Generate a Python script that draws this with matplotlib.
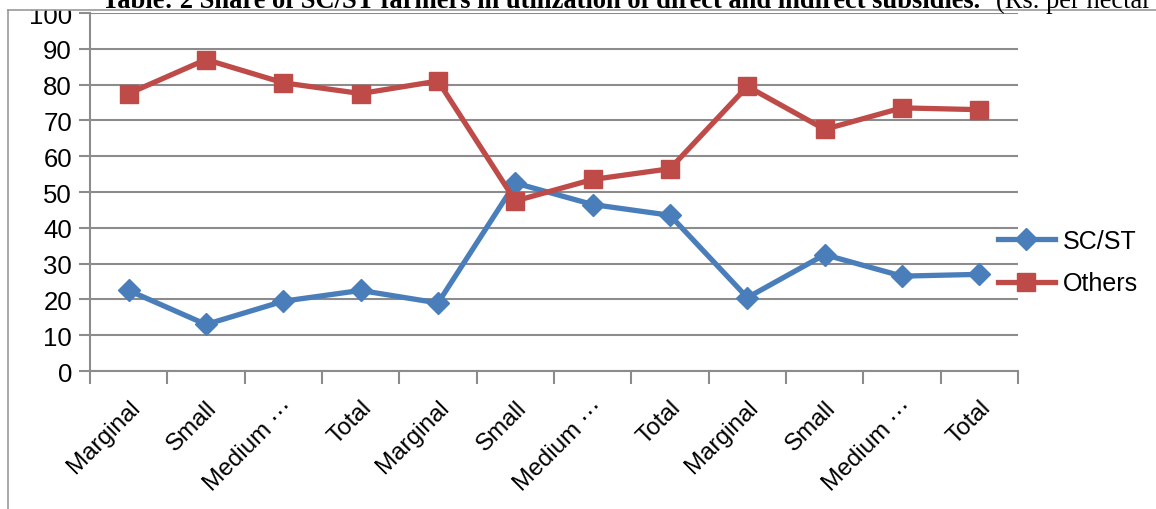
import matplotlib
matplotlib.use("Agg")
import matplotlib.pyplot as plt
from matplotlib.patches import Rectangle
from matplotlib.lines import Line2D

categories = ["Marginal", "Small", "Medium \u22ef", "Total",
              "Marginal", "Small", "Medium \u22ef", "Total",
              "Marginal", "Small", "Medium \u22ef", "Total"]
sc_st = [22.5, 13.0, 19.5, 22.5, 19.0, 52.5, 46.5, 43.5, 20.5, 32.5, 26.5, 27.0]
others = [77.5, 87.0, 80.5, 77.5, 81.0, 47.5, 53.5, 56.5, 79.5, 67.5, 73.5, 73.0]
yticks = [0, 10, 20, 30, 40, 50, 60, 70, 80, 90, 100]
title_bold = "Table: 2 Share of SC/ST farmers in utilization of direct and indirect subsidies."
title_rest = "(Rs. per hectar"

W, H = 1156, 510
fig = plt.figure(figsize=(W / 100, H / 100), dpi=100)
ax = fig.add_axes([90 / W, (H - 372) / H, (1018 - 90) / W, (372 - 14) / H])

blue = "#4a7ebb"
red = "#be4b48"
grid_c = "#8c8c8c"
sans = ["Liberation Sans", "DejaVu Sans"]

x = [i + 0.5 for i in range(len(categories))]
ax.plot(x, sc_st, color=blue, lw=3.8, marker="D", ms=11, label="SC/ST",
        zorder=3, clip_on=False)
ax.plot(x, others, color=red, lw=3.8, marker="s", ms=12.5, label="Others",
        zorder=3, clip_on=False)

ax.set_xlim(0, len(categories))
ax.set_ylim(0, 100)
ax.set_yticks(yticks)
ax.set_yticklabels([str(v) for v in yticks], fontsize=18.5, family=sans)
ax.yaxis.grid(True, color=grid_c, lw=1.5)
ax.set_axisbelow(True)
ax.tick_params(axis="y", length=8, width=1.5, color=grid_c, pad=5)

ax.set_xticks(x)
ax.set_xticklabels(categories, rotation=45, ha="right", rotation_mode="anchor",
                   fontsize=17.5, family=sans)
ax.tick_params(axis="x", which="major", length=0, pad=18)
ax.set_xticks(range(len(categories) + 1), minor=True)
ax.tick_params(axis="x", which="minor", length=9, width=1.5, color=grid_c)

for s in ["top", "right"]:
    ax.spines[s].set_visible(False)
for s in ["left", "bottom"]:
    ax.spines[s].set_color(grid_c)
    ax.spines[s].set_linewidth(1.5)

leg = fig.legend(handles=[Line2D([], [], color=blue, lw=3.8, marker="D", ms=11),
                          Line2D([], [], color=red, lw=3.8, marker="s", ms=12.5)],
                 labels=["SC/ST", "Others"], loc="center left",
                 bbox_to_anchor=(975 / W, 1 - 263 / H), frameon=False,
                 prop={"family": sans, "size": 18}, handlelength=2.3,
                 handletextpad=0.3, labelspacing=0.75)

# white band over the top and the outer chart frame
fig.patches.append(Rectangle((0, 1 - 10.5 / H), 1, 10.5 / H, transform=fig.transFigure,
                             facecolor="white", edgecolor="none", zorder=10))
fig.lines.append(Line2D([8 / W, 1], [1 - 10.5 / H, 1 - 10.5 / H], transform=fig.transFigure,
                        color="#999999", lw=1.2, zorder=11))
fig.lines.append(Line2D([8 / W, 8 / W], [0, 1 - 10.5 / H], transform=fig.transFigure,
                        color="#999999", lw=1.2, zorder=11))

t1 = fig.text(102 / W, 1 - 8 / H, title_bold, fontsize=19.1, fontweight="bold",
              family=["Liberation Serif", "DejaVu Serif"], va="baseline", ha="left", zorder=12)
fig.canvas.draw()
bb = t1.get_window_extent()
fig.text((bb.x1 + 16) / W, 1 - 8 / H, title_rest, fontsize=19.1,
         family=["Liberation Serif", "DejaVu Serif"], va="baseline", ha="left", zorder=12)

fig.savefig("out.png", dpi=100)
